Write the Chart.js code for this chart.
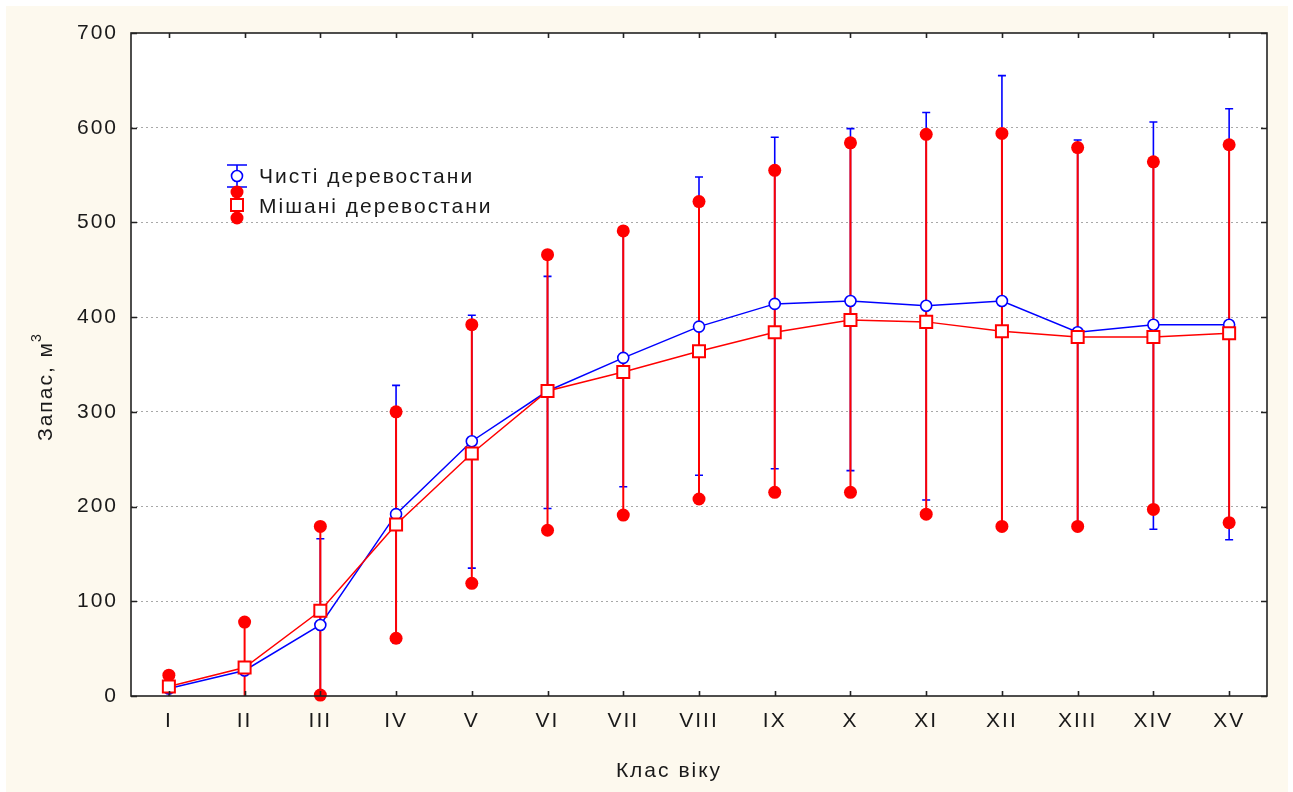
<!DOCTYPE html>
<html><head><meta charset="utf-8">
<script src="https://cdn.jsdelivr.net/npm/chart.js@4/dist/chart.umd.min.js"></script>
<style>html,body{margin:0;padding:0;background:#fff}canvas{display:block}</style>
</head><body>
<canvas id="c" width="1293" height="792"></canvas>
<script>
const categories = ['I','II','III','IV','V','VI','VII','VIII','IX','X','XI','XII','XIII','XIV','XV'];
const pureMean  = [8,27,75,192,269,322,357,390,414,417,412,417,384,392,392];
const pureLow   = [null,null,-16,56,135,198,221,233,240,238,207,179,181,176,165];
const pureHigh  = [null,null,166,328,402,443,493,548,590,599,616,655,587,606,620];
const mixedMean = [10,30,90,181,256,322,342,364,384,397,395,385,379,379,383];
const mixedLow  = [-4,-18,1,61,119,175,191,208,215,215,192,179,179,197,183];
const mixedHigh = [22,78,179,300,392,466,491,522,555,584,593,594,579,564,582];
const yMin = 0, yMax = 700, yStep = 100;
const seriesNames = ['Чисті деревостани', 'Мішані деревостани'];
const xTitle = 'Клас віку';
const yTitle = 'Запас, м';
const yTitleSup = '3';

const BLUE = '#0000ff', RED = '#ff0000', CREAM = '#fdf9ee', INK = '#1a1a1a';
const FONT = '"Liberation Sans", Arial, sans-serif';
const SPACING = '2px';

const bgPlugin = {
  id: 'bg',
  beforeDraw(chart) {
    const ctx = chart.ctx, a = chart.chartArea;
    ctx.save();
    ctx.fillStyle = '#ffffff';
    ctx.fillRect(0, 0, chart.width, chart.height);
    ctx.fillStyle = CREAM;
    ctx.fillRect(6, 6, 1282, chart.height - 6);
    ctx.fillStyle = '#ffffff';
    ctx.fillRect(a.left, a.top, a.right - a.left, a.bottom - a.top);
    ctx.restore();
    ctx.letterSpacing = SPACING;
  }
};

const whiskerPlugin = {
  id: 'whiskers',
  beforeDatasetsDraw(chart) {
    const ctx = chart.ctx, a = chart.chartArea;
    const xs = chart.scales.x, ys = chart.scales.y;
    ctx.save();
    ctx.beginPath();
    ctx.rect(a.left, a.top, a.right - a.left, a.bottom - a.top);
    ctx.clip();
    ctx.strokeStyle = BLUE; ctx.lineWidth = 1.6;
    for (let i = 0; i < categories.length; i++) {
      if (pureLow[i] == null || pureHigh[i] == null) continue;
      const x = xs.getPixelForValue(i);
      const y1 = ys.getPixelForValue(pureLow[i]), y2 = ys.getPixelForValue(pureHigh[i]);
      ctx.beginPath(); ctx.moveTo(x, y1); ctx.lineTo(x, y2); ctx.stroke();
      ctx.beginPath();
      ctx.moveTo(x - 4, y1); ctx.lineTo(x + 4, y1);
      ctx.moveTo(x - 4, y2); ctx.lineTo(x + 4, y2);
      ctx.stroke();
    }
    ctx.strokeStyle = RED; ctx.lineWidth = 2;
    for (let i = 0; i < categories.length; i++) {
      const x = xs.getPixelForValue(i);
      const y1 = ys.getPixelForValue(mixedLow[i]), y2 = ys.getPixelForValue(mixedHigh[i]);
      ctx.beginPath(); ctx.moveTo(x, y1); ctx.lineTo(x, y2); ctx.stroke();
    }
    ctx.restore();
  }
};

const framePlugin = {
  id: 'frame',
  afterDraw(chart) {
    const ctx = chart.ctx, a = chart.chartArea;
    const xs = chart.scales.x, ys = chart.scales.y;
    ctx.save();
    ctx.strokeStyle = '#222'; ctx.lineWidth = 1.6;
    ctx.strokeRect(a.left, a.top, a.right - a.left, a.bottom - a.top);
    ctx.beginPath();
    for (let v = yMin; v <= yMax; v += yStep) {
      const y = Math.round(ys.getPixelForValue(v)) + 0.5;
      ctx.moveTo(a.left, y); ctx.lineTo(a.left + 6, y);
      ctx.moveTo(a.right, y); ctx.lineTo(a.right - 6, y);
    }
    for (let i = 0; i < categories.length; i++) {
      const x = Math.round(xs.getPixelForValue(i)) + 0.5;
      ctx.moveTo(x, a.bottom); ctx.lineTo(x, a.bottom - 5);
      ctx.moveTo(x, a.top); ctx.lineTo(x, a.top + 5);
    }
    ctx.stroke();

    ctx.fillStyle = INK;
    ctx.letterSpacing = SPACING;
    ctx.font = '21px ' + FONT;
    ctx.textAlign = 'center'; ctx.textBaseline = 'middle';
    ctx.fillText(xTitle, 669, 771);
    ctx.save();
    ctx.translate(46, 441);
    ctx.rotate(-Math.PI / 2);
    ctx.textAlign = 'left';
    ctx.fillText(yTitle, 0, 0);
    const w = ctx.measureText(yTitle).width;
    ctx.font = '14px ' + FONT;
    ctx.fillText(yTitleSup, w - 1, -9);
    ctx.restore();

    const lx = 237;
    ctx.lineWidth = 1.6;
    ctx.strokeStyle = BLUE;
    ctx.beginPath();
    ctx.moveTo(lx, 165); ctx.lineTo(lx, 187);
    ctx.moveTo(lx - 10, 165); ctx.lineTo(lx + 10, 165);
    ctx.moveTo(lx - 10, 187); ctx.lineTo(lx + 10, 187);
    ctx.stroke();
    ctx.fillStyle = '#fff';
    ctx.beginPath(); ctx.arc(lx, 176, 5.5, 0, Math.PI * 2); ctx.fill(); ctx.stroke();
    ctx.strokeStyle = RED; ctx.lineWidth = 2;
    ctx.beginPath(); ctx.moveTo(lx, 192); ctx.lineTo(lx, 218); ctx.stroke();
    ctx.fillStyle = RED;
    ctx.beginPath(); ctx.arc(lx, 192, 6.5, 0, Math.PI * 2); ctx.fill();
    ctx.beginPath(); ctx.arc(lx, 218, 6.5, 0, Math.PI * 2); ctx.fill();
    ctx.fillStyle = '#fff';
    ctx.fillRect(lx - 6, 199, 12, 12); ctx.strokeRect(lx - 6, 199, 12, 12);
    ctx.fillStyle = INK;
    ctx.font = '21px ' + FONT;
    ctx.textAlign = 'left'; ctx.textBaseline = 'middle';
    ctx.fillText(seriesNames[0], 259, 177);
    ctx.fillText(seriesNames[1], 259, 207);
    ctx.restore();
  }
};

new Chart(document.getElementById('c'), {
  type: 'line',
  data: {
    labels: categories,
    datasets: [
      {
        label: seriesNames[1], data: mixedMean, order: 0,
        borderColor: RED, borderWidth: 1.5, tension: 0,
        pointStyle: 'rect', pointRadius: 8.5, pointHoverRadius: 8.5,
        pointBackgroundColor: '#fff', pointBorderColor: RED, pointBorderWidth: 2
      },
      {
        label: seriesNames[0], data: pureMean, order: 1,
        borderColor: BLUE, borderWidth: 1.5, tension: 0,
        pointStyle: 'circle', pointRadius: 5.5, pointHoverRadius: 5.5,
        pointBackgroundColor: '#fff', pointBorderColor: BLUE, pointBorderWidth: 1.6
      },
      {
        label: 'upper', data: mixedHigh.map(v => v >= yMin ? v : null), order: 2,
        showLine: false, clip: false,
        pointStyle: 'circle', pointRadius: 6.5, pointHoverRadius: 6.5,
        pointBackgroundColor: RED, pointBorderColor: RED, pointBorderWidth: 0
      },
      {
        label: 'lower', data: mixedLow.map(v => v >= yMin ? v : null), order: 2,
        showLine: false, clip: false,
        pointStyle: 'circle', pointRadius: 6.5, pointHoverRadius: 6.5,
        pointBackgroundColor: RED, pointBorderColor: RED, pointBorderWidth: 0
      }
    ]
  },
  options: {
    responsive: false, animation: false, devicePixelRatio: 1,
    layout: { padding: { top: 33, right: 26, left: 0, bottom: 0 } },
    plugins: { legend: { display: false }, tooltip: { enabled: false } },
    scales: {
      x: {
        type: 'category', offset: true,
        grid: { display: false, drawTicks: false },
        border: { display: false },
        ticks: { color: INK, font: { family: FONT, size: 21 }, padding: 13, maxRotation: 0, autoSkip: false },
        afterFit: s => { s.height = 96; }
      },
      y: {
        min: yMin, max: yMax,
        grid: {
          drawTicks: false, lineWidth: 1,
          color: c => (c.tick && (c.tick.value === yMin || c.tick.value === yMax)) ? 'rgba(0,0,0,0)' : '#a8a8a8'
        },
        border: { display: false, dash: [2, 3] },
        ticks: { stepSize: yStep, color: INK, font: { family: FONT, size: 21 }, padding: 13 },
        afterFit: s => { s.width = 131; }
      }
    }
  },
  plugins: [bgPlugin, whiskerPlugin, framePlugin]
});
</script>
</body></html>
